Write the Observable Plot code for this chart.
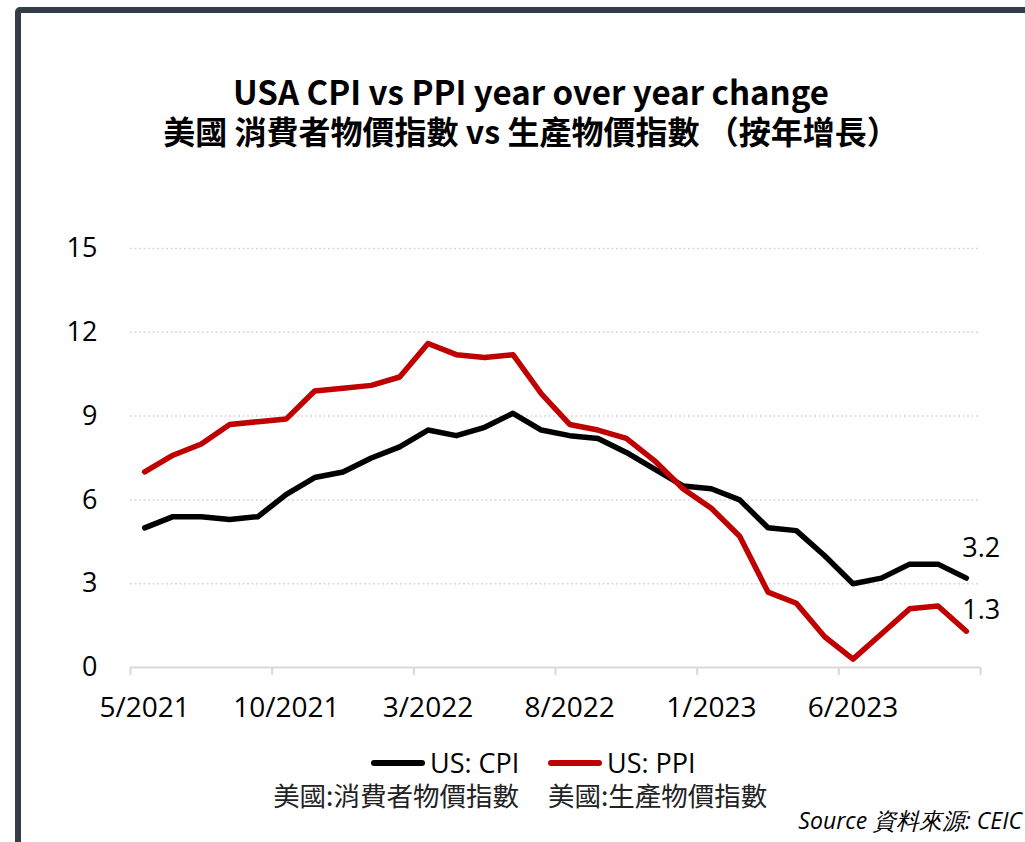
<!DOCTYPE html>
<html><head><meta charset="utf-8">
<script src="https://cdn.jsdelivr.net/npm/d3@7"></script>
<script src="https://cdn.jsdelivr.net/npm/@observablehq/plot@0.6"></script>
<style>
html,body{margin:0;padding:0;width:1025px;height:842px;overflow:hidden;background:#fff;}
#frame{position:absolute;left:15px;top:7px;width:1100px;height:900px;border:6px solid #343d46;border-radius:5px;box-sizing:border-box;}
.title{position:absolute;left:0;width:1062px;text-align:center;font-family:"Noto Sans CJK TC","Noto Sans",sans-serif;font-weight:700;color:#000;line-height:36px;white-space:nowrap;}
#t1{top:73px;font-size:33px;}
#t2{top:112px;font-size:32px;}
#chart{position:absolute;left:0;top:200px;}
.lg{position:absolute;font-family:"Open Sans",sans-serif;font-size:27px;line-height:28px;color:#000;white-space:nowrap;}
.sw{position:absolute;height:6px;width:54px;border-radius:3px;}
.cjk{position:absolute;font-family:"Noto Sans CJK TC",sans-serif;font-size:26.5px;line-height:28px;color:#222;white-space:nowrap;}
#src{position:absolute;right:3px;top:808px;font-family:"Open Sans",sans-serif;font-style:italic;font-size:23px;line-height:24px;color:#000;white-space:nowrap;}
</style></head>
<body>
<div id="frame"></div>
<div class="title" id="t1">USA CPI vs PPI year over year change</div>
<div class="title" id="t2">美國 消費者物價指數 vs 生產物價指數 （按年增長）</div>
<div id="chart"></div>
<div id="legend"></div>
<div id="src">Source 資料來源: CEIC</div>
<script>
// ---- data ----
const months = ["5/2021","6/2021","7/2021","8/2021","9/2021","10/2021","11/2021","12/2021",
  "1/2022","2/2022","3/2022","4/2022","5/2022","6/2022","7/2022","8/2022","9/2022","10/2022","11/2022","12/2022",
  "1/2023","2/2023","3/2023","4/2023","5/2023","6/2023","7/2023","8/2023","9/2023","10/2023"];
const cpi = [5.0,5.4,5.4,5.3,5.4,6.2,6.8,7.0,7.5,7.9,8.5,8.3,8.6,9.1,8.5,8.3,8.2,7.7,7.1,6.5,6.4,6.0,5.0,4.9,4.0,3.0,3.2,3.7,3.7,3.2];
const ppi = [7.0,7.6,8.0,8.7,8.8,8.9,9.9,10.0,10.1,10.4,11.6,11.2,11.1,11.2,9.8,8.7,8.5,8.2,7.4,6.4,5.7,4.7,2.7,2.3,1.1,0.3,1.2,2.1,2.2,1.3];
const xTickLabels = ["5/2021","10/2021","3/2022","8/2022","1/2023","6/2023"];
const yTicks = [0,3,6,9,12,15];
const seriesNames = ["US: CPI","US: PPI"];
const seriesNamesZh = ["美國:消費者物價指數","美國:生產物價指數"];
const seriesColors = ["#000000","#c00000"];

// ---- build ----
const rows = months.map((m,i)=>({m,i}));
const long = [
  ...rows.map(d=>({...d, s: seriesNames[0], v: cpi[d.i]})),
  ...rows.map(d=>({...d, s: seriesNames[1], v: ppi[d.i]}))
];
const pos = d => d.i + 0.5;
const boundaries = d3.range(0, months.length + 1, 5);
const labelPos = xTickLabels.map(l => months.indexOf(l) + 0.5);
const lastCpi = long.filter(d => d.s === seriesNames[0] && d.i === months.length - 1);
const lastPpi = long.filter(d => d.s === seriesNames[1] && d.i === months.length - 1);

const chart = Plot.plot({
  width: 1025, height: 530,
  marginTop: 48, marginBottom: 63, marginLeft: 130, marginRight: 45,
  x: {domain: [0, months.length], axis: null},
  y: {domain: [0, 15], axis: null},
  color: {domain: seriesNames, range: seriesColors},
  style: {fontFamily: "'Open Sans', sans-serif", color: "#000", background: "transparent", overflow: "visible"},
  marks: [
    Plot.ruleY(yTicks.filter(t => t > 0), {stroke: "#d9d9d9", strokeWidth: 1.5, strokeDasharray: "2,2.5"}),
    Plot.axisY({ticks: yTicks, tickSize: 0, tickPadding: 33, fontSize: 27, tickFormat: d => d, label: null}),
    Plot.ruleY([0], {stroke: "#d9d9d9", strokeWidth: 2}),
    Plot.axisX({ticks: boundaries, tickSize: 8, tickFormat: () => "", stroke: "#d9d9d9", strokeWidth: 2, label: null}),
    Plot.axisX({ticks: labelPos, tickSize: 0, tickPadding: 30, fontSize: 28, tickFormat: v => months[Math.floor(v)], label: null}),
    Plot.line(long, {x: pos, y: "v", z: "s", stroke: "s", strokeWidth: 5.5, strokeLinejoin: "round", strokeLinecap: "round"}),
    Plot.text(lastCpi, {x: pos, y: "v", text: d => d.v.toFixed(1), textAnchor: "start", dx: -4, dy: -30, fontSize: 27, fill: "#000"}),
    Plot.text(lastPpi, {x: pos, y: "v", text: d => d.v.toFixed(1), textAnchor: "start", dx: -4, dy: -21, fontSize: 27, fill: "#000"})
  ]
});
document.getElementById("chart").appendChild(chart);

// ---- legend ----
const lg = document.getElementById("legend");
const swLeft = [371, 548];
seriesNames.forEach((n, k) => {
  const sw = document.createElement("div");
  sw.className = "sw"; sw.style.left = swLeft[k] + "px"; sw.style.top = "760px"; sw.style.background = seriesColors[k];
  lg.appendChild(sw);
  const t = document.createElement("div");
  t.className = "lg"; t.textContent = n; t.style.left = (swLeft[k] + 59) + "px"; t.style.top = "749px";
  lg.appendChild(t);
});
const z1 = document.createElement("div");
z1.className = "cjk"; z1.textContent = seriesNamesZh[0]; z1.style.right = (1025 - 519) + "px"; z1.style.top = "781px";
lg.appendChild(z1);
const z2 = document.createElement("div");
z2.className = "cjk"; z2.textContent = seriesNamesZh[1]; z2.style.left = "548px"; z2.style.top = "781px";
lg.appendChild(z2);
</script>
</body></html>
